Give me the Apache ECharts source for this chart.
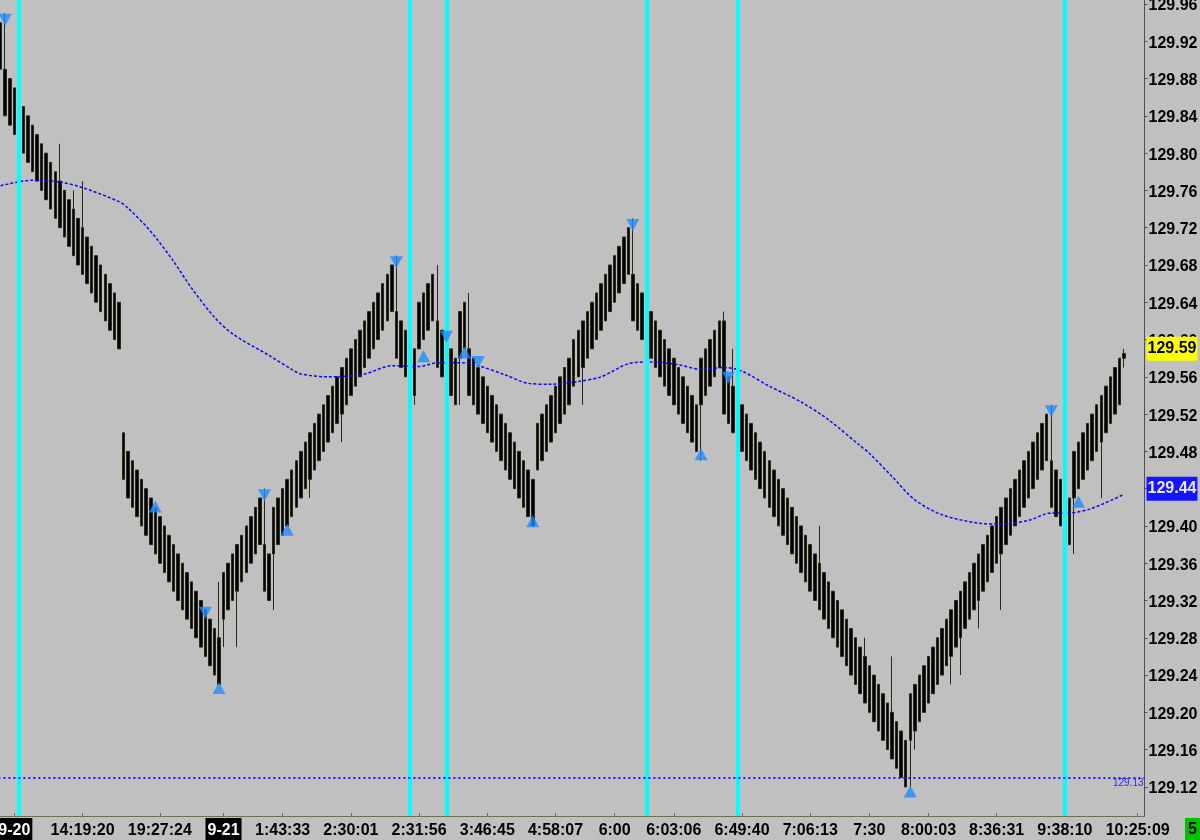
<!DOCTYPE html>
<html>
<head>
<meta charset="utf-8">
<title>Range bars</title>
<script src="https://cdn.jsdelivr.net/npm/echarts@6/dist/echarts.min.js"></script>
<style>
  html, body { margin: 0; padding: 0; background: #c0c0c0; }
  #chart { width: 1200px; height: 840px; }
</style>
</head>
<body>
<div id="chart"></div>
<script>
// body top of every range bar, left to right
const barTop = [
  129.94, 129.89, 129.88, 129.87, 129.86, 129.85, 129.84, 129.83, 129.82, 129.81,
  129.80, 129.79, 129.78, 129.77, 129.76, 129.75, 129.74, 129.73, 129.72, 129.71,
  129.70, 129.69, 129.68, 129.67, 129.66, 129.65, 129.64, 129.50, 129.48, 129.47,
  129.46, 129.45, 129.44, 129.43, 129.42, 129.41, 129.40, 129.39, 129.38, 129.37,
  129.36, 129.35, 129.34, 129.33, 129.32, 129.31, 129.30, 129.29, 129.28, 129.35,
  129.36, 129.37, 129.38, 129.39, 129.40, 129.41, 129.42, 129.43, 129.38, 129.37,
  129.42, 129.43, 129.44, 129.45, 129.46, 129.47, 129.48, 129.49, 129.50, 129.51,
  129.52, 129.53, 129.54, 129.55, 129.56, 129.57, 129.58, 129.59, 129.60, 129.61,
  129.62, 129.63, 129.64, 129.65, 129.66, 129.67, 129.68, 129.63, 129.62, 129.61,
  129.60, 129.59, 129.64, 129.65, 129.66, 129.67, 129.62, 129.61, 129.60, 129.59,
  129.58, 129.63, 129.64, 129.59, 129.58, 129.57, 129.56, 129.55, 129.54, 129.53,
  129.52, 129.51, 129.50, 129.49, 129.48, 129.47, 129.46, 129.45, 129.51, 129.52,
  129.53, 129.54, 129.55, 129.56, 129.57, 129.58, 129.60, 129.61, 129.62, 129.63,
  129.64, 129.65, 129.66, 129.67, 129.68, 129.69, 129.70, 129.71, 129.72, 129.67,
  129.66, 129.65, 129.64, 129.63, 129.62, 129.61, 129.60, 129.59, 129.58, 129.57,
  129.56, 129.55, 129.54, 129.53, 129.58, 129.59, 129.60, 129.61, 129.62, 129.62,
  129.56, 129.55, 129.54, 129.53, 129.52, 129.51, 129.50, 129.49, 129.48, 129.47,
  129.46, 129.45, 129.44, 129.43, 129.42, 129.41, 129.40, 129.39, 129.38, 129.37,
  129.36, 129.35, 129.34, 129.33, 129.32, 129.31, 129.30, 129.29, 129.28, 129.27,
  129.26, 129.25, 129.24, 129.23, 129.22, 129.21, 129.20, 129.19, 129.18, 129.17,
  129.22, 129.23, 129.24, 129.25, 129.26, 129.27, 129.28, 129.29, 129.30, 129.31,
  129.32, 129.33, 129.34, 129.35, 129.36, 129.37, 129.38, 129.39, 129.40, 129.41,
  129.42, 129.43, 129.44, 129.45, 129.46, 129.47, 129.48, 129.49, 129.50, 129.51,
  129.52, 129.47, 129.46, 129.45, 129.44, 129.43, 129.48, 129.49, 129.50, 129.51,
  129.52, 129.53, 129.54, 129.55, 129.56, 129.57, 129.58, 129.585
];
// body bottom of every range bar
const barBot = [
  129.89, 129.84, 129.83, 129.82, 129.81, 129.80, 129.79, 129.78, 129.77, 129.76,
  129.75, 129.74, 129.73, 129.72, 129.71, 129.70, 129.69, 129.68, 129.67, 129.66,
  129.65, 129.64, 129.63, 129.62, 129.61, 129.60, 129.59, 129.45, 129.43, 129.42,
  129.41, 129.40, 129.39, 129.38, 129.37, 129.36, 129.35, 129.34, 129.33, 129.32,
  129.31, 129.30, 129.29, 129.28, 129.27, 129.26, 129.25, 129.24, 129.23, 129.30,
  129.31, 129.32, 129.33, 129.34, 129.35, 129.36, 129.37, 129.38, 129.33, 129.32,
  129.37, 129.38, 129.39, 129.40, 129.41, 129.42, 129.43, 129.44, 129.45, 129.46,
  129.47, 129.48, 129.49, 129.50, 129.51, 129.52, 129.53, 129.54, 129.55, 129.56,
  129.57, 129.58, 129.59, 129.60, 129.61, 129.62, 129.63, 129.58, 129.57, 129.56,
  129.55, 129.54, 129.59, 129.60, 129.61, 129.62, 129.57, 129.56, 129.55, 129.54,
  129.53, 129.58, 129.59, 129.54, 129.53, 129.52, 129.51, 129.50, 129.49, 129.48,
  129.47, 129.46, 129.45, 129.44, 129.43, 129.42, 129.41, 129.40, 129.46, 129.47,
  129.48, 129.49, 129.50, 129.51, 129.52, 129.53, 129.55, 129.56, 129.57, 129.58,
  129.59, 129.60, 129.61, 129.62, 129.63, 129.64, 129.65, 129.66, 129.67, 129.62,
  129.61, 129.60, 129.59, 129.58, 129.57, 129.56, 129.55, 129.54, 129.53, 129.52,
  129.51, 129.50, 129.49, 129.48, 129.53, 129.54, 129.55, 129.56, 129.57, 129.52,
  129.51, 129.50, 129.49, 129.48, 129.47, 129.46, 129.45, 129.44, 129.43, 129.42,
  129.41, 129.40, 129.39, 129.38, 129.37, 129.36, 129.35, 129.34, 129.33, 129.32,
  129.31, 129.30, 129.29, 129.28, 129.27, 129.26, 129.25, 129.24, 129.23, 129.22,
  129.21, 129.20, 129.19, 129.18, 129.17, 129.16, 129.15, 129.14, 129.13, 129.12,
  129.17, 129.18, 129.19, 129.20, 129.21, 129.22, 129.23, 129.24, 129.25, 129.26,
  129.27, 129.28, 129.29, 129.30, 129.31, 129.32, 129.33, 129.34, 129.35, 129.36,
  129.37, 129.38, 129.39, 129.40, 129.41, 129.42, 129.43, 129.44, 129.45, 129.46,
  129.47, 129.42, 129.41, 129.40, 129.39, 129.38, 129.43, 129.44, 129.45, 129.46,
  129.47, 129.48, 129.49, 129.50, 129.51, 129.52, 129.53, 129.58
];
// bars whose wick goes past the body (bar index -> price)
const wickHigh = {
  1: 129.95, 13: 129.81, 16: 129.76, 18: 129.77, 48: 129.34, 58: 129.44,
  87: 129.69, 96: 129.68, 103: 129.65, 139: 129.73, 159: 129.63, 161: 129.59,
  180: 129.40, 190: 129.28, 196: 129.26, 231: 129.53, 247: 129.59
};
const wickLow = {
  49: 129.27, 52: 129.27, 60: 129.31, 68: 129.43, 75: 129.49, 91: 129.53,
  101: 129.53, 128: 129.53, 154: 129.47, 200: 129.12, 201: 129.16, 209: 129.23,
  211: 129.24, 215: 129.29, 220: 129.31, 236: 129.37, 242: 129.43, 247: 129.57
};
// moving average, read at a few bars
const maPoints = [
  [0, 129.765], [7, 129.771], [13, 129.769], [18, 129.763], [26, 129.748], [28, 129.741],
  [33, 129.716], [38, 129.684], [42, 129.655], [47, 129.624], [51, 129.606], [59, 129.583],
  [64, 129.568], [66, 129.563], [72, 129.560], [80, 129.563], [86, 129.572], [92, 129.571],
  [96, 129.575], [102, 129.575], [105, 129.572], [111, 129.562], [116, 129.553], [121, 129.552],
  [127, 129.555], [132, 129.560], [138, 129.574], [143, 129.576], [149, 129.573], [154, 129.568],
  [159, 129.570], [163, 129.566], [169, 129.550], [176, 129.533], [182, 129.514], [189, 129.486],
  [191, 129.478], [196, 129.453], [201, 129.428], [207, 129.412], [215, 129.403], [220, 129.402],
  [226, 129.406], [231, 129.414], [235, 129.414], [240, 129.419], [247, 129.434]
];
// signal triangles: [bar index, price]
const downMarks = [
  [1, 129.943], [45, 129.307], [58, 129.433], [87, 129.683], [98, 129.603],
  [105, 129.576], [139, 129.723], [160, 129.559], [231, 129.523]
];
const upMarks = [
  [34, 129.421], [48, 129.226], [63, 129.396], [93, 129.582], [102, 129.586],
  [117, 129.405], [154, 129.477], [200, 129.115], [237, 129.426]
];
// session / event lines (bar index)
const cyanLines = [4, 90, 98, 142, 162, 234];
// time axis labels: [slot index, text]
const timeLabels = [
  [3, '9-20'], [18, '14:19:20'], [35, '19:27:24'], [49, '9-21'], [62, '1:43:33'],
  [77, '2:30:01'], [92, '2:31:56'], [107, '3:46:45'], [122, '4:58:07'], [135, '6:00'],
  [148, '6:03:06'], [163, '6:49:40'], [178, '7:06:13'], [191, '7:30'], [204, '8:00:03'],
  [219, '8:36:31'], [234, '9:38:10'], [250, '10:25:09']
];
const dateLabels = ['9-20', '9-21'];
const priceTicks = [
  129.12, 129.16, 129.20, 129.24, 129.28, 129.32, 129.36, 129.40, 129.44, 129.48, 129.52,
  129.56, 129.60, 129.64, 129.68, 129.72, 129.76, 129.80, 129.84, 129.88, 129.92, 129.96
];
const lastPrice = 129.59;
const maLast = { value: 129.435, text: '129.44' };
const levelLine = { value: 129.13, text: '129.13' };
const SLOTS = 252;

const labelMap = {};
timeLabels.forEach(([i, t]) => { labelMap[i] = t; });
const categories = [];
for (let i = 0; i < SLOTS; i++) categories.push(String(i));

const candles = barTop.map((top, i) => [
  barBot[i],
  top,
  wickLow[i] !== undefined ? wickLow[i] : barBot[i],
  wickHigh[i] !== undefined ? wickHigh[i] : top
]);

const FONT = 'Liberation Sans';
const chart = echarts.init(document.getElementById('chart'));
chart.setOption({
  backgroundColor: '#c0c0c0',
  animation: false,
  grid: {
    left: -1.6, top: 0, width: 1146.1, height: 816,
    containLabel: false,
    outerBoundsMode: 'none'
  },
  xAxis: {
    type: 'category',
    data: categories,
    boundaryGap: true,
    axisLine: { show: true, lineStyle: { color: '#6f6f4f', width: 1 } },
    axisTick: {
      show: true, inside: true, length: 3, alignWithLabel: true,
      interval: (i) => labelMap[i] !== undefined,
      lineStyle: { color: '#6f6f4f' }
    },
    axisLabel: {
      interval: (i) => labelMap[i] !== undefined,
      margin: 2,
      formatter: (v, i) => {
        const t = labelMap[i];
        if (t === undefined) return '';
        return dateLabels.includes(t) ? '{d|' + t + '}' : '{t|' + t + '}';
      },
      rich: {
        t: { color: '#000', fontFamily: FONT, fontWeight: 'bold', fontSize: 16, padding: [5, 0, 2, 0] },
        d: { color: '#fff', backgroundColor: '#000', fontFamily: FONT, fontWeight: 'bold', fontSize: 16, padding: [5, 2, 2, 2] }
      }
    },
    splitLine: { show: false }
  },
  yAxis: {
    type: 'value',
    position: 'right',
    min: 129.0888,
    max: 129.9643,
    splitLine: { show: false },
    axisLine: { show: true, lineStyle: { color: '#505050' } },
    axisTick: { show: true, length: 3, customValues: priceTicks, lineStyle: { color: '#505050' } },
    axisLabel: {
      customValues: priceTicks,
      formatter: (v) => '{p|' + v.toFixed(2) + '}',
      margin: 4,
      rich: {
        p: { color: '#000', fontFamily: FONT, fontWeight: 'bold', fontSize: 16, padding: [4, 0, 0, 0] }
      }
    }
  },
  graphic: [{
    type: 'group',
    left: 1185,
    top: 818,
    children: [
      { type: 'rect', shape: { x: 0, y: 0, width: 15, height: 22 }, style: { fill: '#00c000' } },
      { type: 'text', x: 7.5, y: 12, style: { text: '5', fill: '#000', font: 'bold 16px "Liberation Sans"', align: 'center', verticalAlign: 'middle' } }
    ]
  }],
  series: [
    {
      type: 'candlestick',
      data: candles,
      barWidth: 3,
      z: 2,
      itemStyle: {
        color: '#000', color0: '#000',
        borderColor: '#2a2a18', borderColor0: '#2a2a18', borderWidth: 1
      },
      markLine: {
        silent: true,
        symbol: 'none',
        animation: false,
        lineStyle: { color: 'rgba(0,0,0,0)', width: 0 },
        data: [{
          yAxis: lastPrice,
          label: {
            show: true, position: 'end', distance: 2,
            formatter: lastPrice.toFixed(2),
            backgroundColor: '#ffff00', color: '#000',
            fontFamily: FONT, fontWeight: 'bold', fontSize: 16, padding: [5, 1, 3, 1]
          }
        }]
      }
    },
    {
      type: 'line',
      data: [],
      z: 3,
      markLine: {
        silent: true,
        symbol: 'none',
        animation: false,
        label: { show: false },
        lineStyle: { color: '#00ffff', width: 4, type: 'solid' },
        data: cyanLines.map((i) => ({ xAxis: i }))
      }
    },
    {
      type: 'line',
      data: maPoints,
      z: 4,
      smooth: 0.3,
      symbol: 'none',
      lineStyle: { color: '#0a0aee', width: 1.5, type: [3, 2] },
      markLine: {
        silent: true,
        symbol: 'none',
        animation: false,
        data: [
          {
            yAxis: maLast.value,
            lineStyle: { color: 'rgba(0,0,0,0)', width: 0 },
            label: {
              show: true, position: 'end', distance: 2,
              formatter: maLast.text,
              backgroundColor: '#1414ff', color: '#e8e8ff',
              fontFamily: FONT, fontWeight: 'bold', fontSize: 16, padding: [5, 1, 3, 1]
            }
          },
          {
            yAxis: levelLine.value,
            lineStyle: { color: '#1a1aff', width: 2, type: [2, 3] },
            label: {
              show: true, position: 'insideEndBottom', distance: 1,
              formatter: levelLine.text,
              color: '#2a2aff', fontFamily: FONT, fontSize: 10
            }
          }
        ]
      }
    },
    {
      type: 'scatter',
      data: downMarks,
      z: 5,
      symbol: 'triangle',
      symbolRotate: 180,
      symbolSize: [13, 12],
      itemStyle: { color: '#1e8cff' }
    },
    {
      type: 'scatter',
      data: upMarks,
      z: 5,
      symbol: 'triangle',
      symbolSize: [13, 12],
      itemStyle: { color: '#1e8cff' }
    }
  ]
});
</script>
</body>
</html>
